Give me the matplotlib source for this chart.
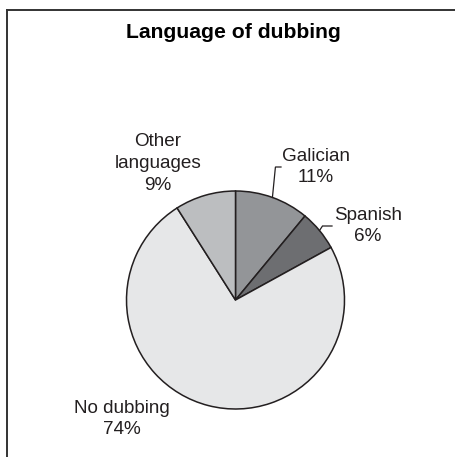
import numpy as np
import matplotlib
matplotlib.use("Agg")
import matplotlib.pyplot as plt
from matplotlib.lines import Line2D

plt.rcParams['font.family'] = ['Liberation Sans', 'DejaVu Sans']

# data
names = ['Galician', 'Spanish', 'No dubbing', 'Other\nlanguages']
shares = [11, 6, 74, 9]
colors = ['#939598', '#6d6e71', '#e6e7e8', '#bcbec0']

W, H = 456, 457
ink = '#231f20'

fig = plt.figure(figsize=(W / 100, H / 100), dpi=100)
ax = fig.add_axes([0, 0, 1, 1])

cx, cy, r = 235.5, H - 300, 109
wedges, _ = ax.pie(shares, colors=colors, startangle=90, counterclock=False,
                   center=(cx, cy), radius=r,
                   wedgeprops=dict(edgecolor=ink, linewidth=1.1))
ax.set_xlim(0, W)
ax.set_ylim(0, H)
ax.set_aspect('equal')
ax.axis('off')

# label positions (pixel space, y from top): centre x, centre y, leader end x
label_pos = [(316, 167, 281), (368, 226, 332), (121.5, 419, None), (158, 163.5, None)]
spacing = [1.25, 1.25, 1.25, 1.38]

for w, name, s, (tx, ty, lx), ls in zip(wedges, names, shares, label_pos, spacing):
    ax.text(tx, H - ty, f"{name}\n{s}%", ha='center', va='center',
            multialignment='center', fontsize=13.6, color=ink, linespacing=ls)
    if lx is not None:
        mid = np.deg2rad((w.theta1 + w.theta2) / 2)
        x0 = cx + r * np.cos(mid)
        y0 = cy + r * np.sin(mid)
        ax.plot([x0, x0 + 3, lx], [y0, H - ty, H - ty], color=ink, lw=0.9,
                solid_joinstyle='miter')

fig.text(233.5 / W, 1 - 32 / H, 'Language of dubbing', ha='center', va='center',
         fontsize=15.2, fontweight='bold', color='black')

# frame: only top and left edges are visible in the crop
fig.add_artist(Line2D([7.5 / W, 7.5 / W], [0, 1 - 10 / H], color='#333333', lw=1.4,
                      transform=fig.transFigure))
fig.add_artist(Line2D([7.5 / W, 1], [1 - 10 / H, 1 - 10 / H], color='#333333', lw=1.4,
                      transform=fig.transFigure))

fig.savefig('out.png', dpi=100)
